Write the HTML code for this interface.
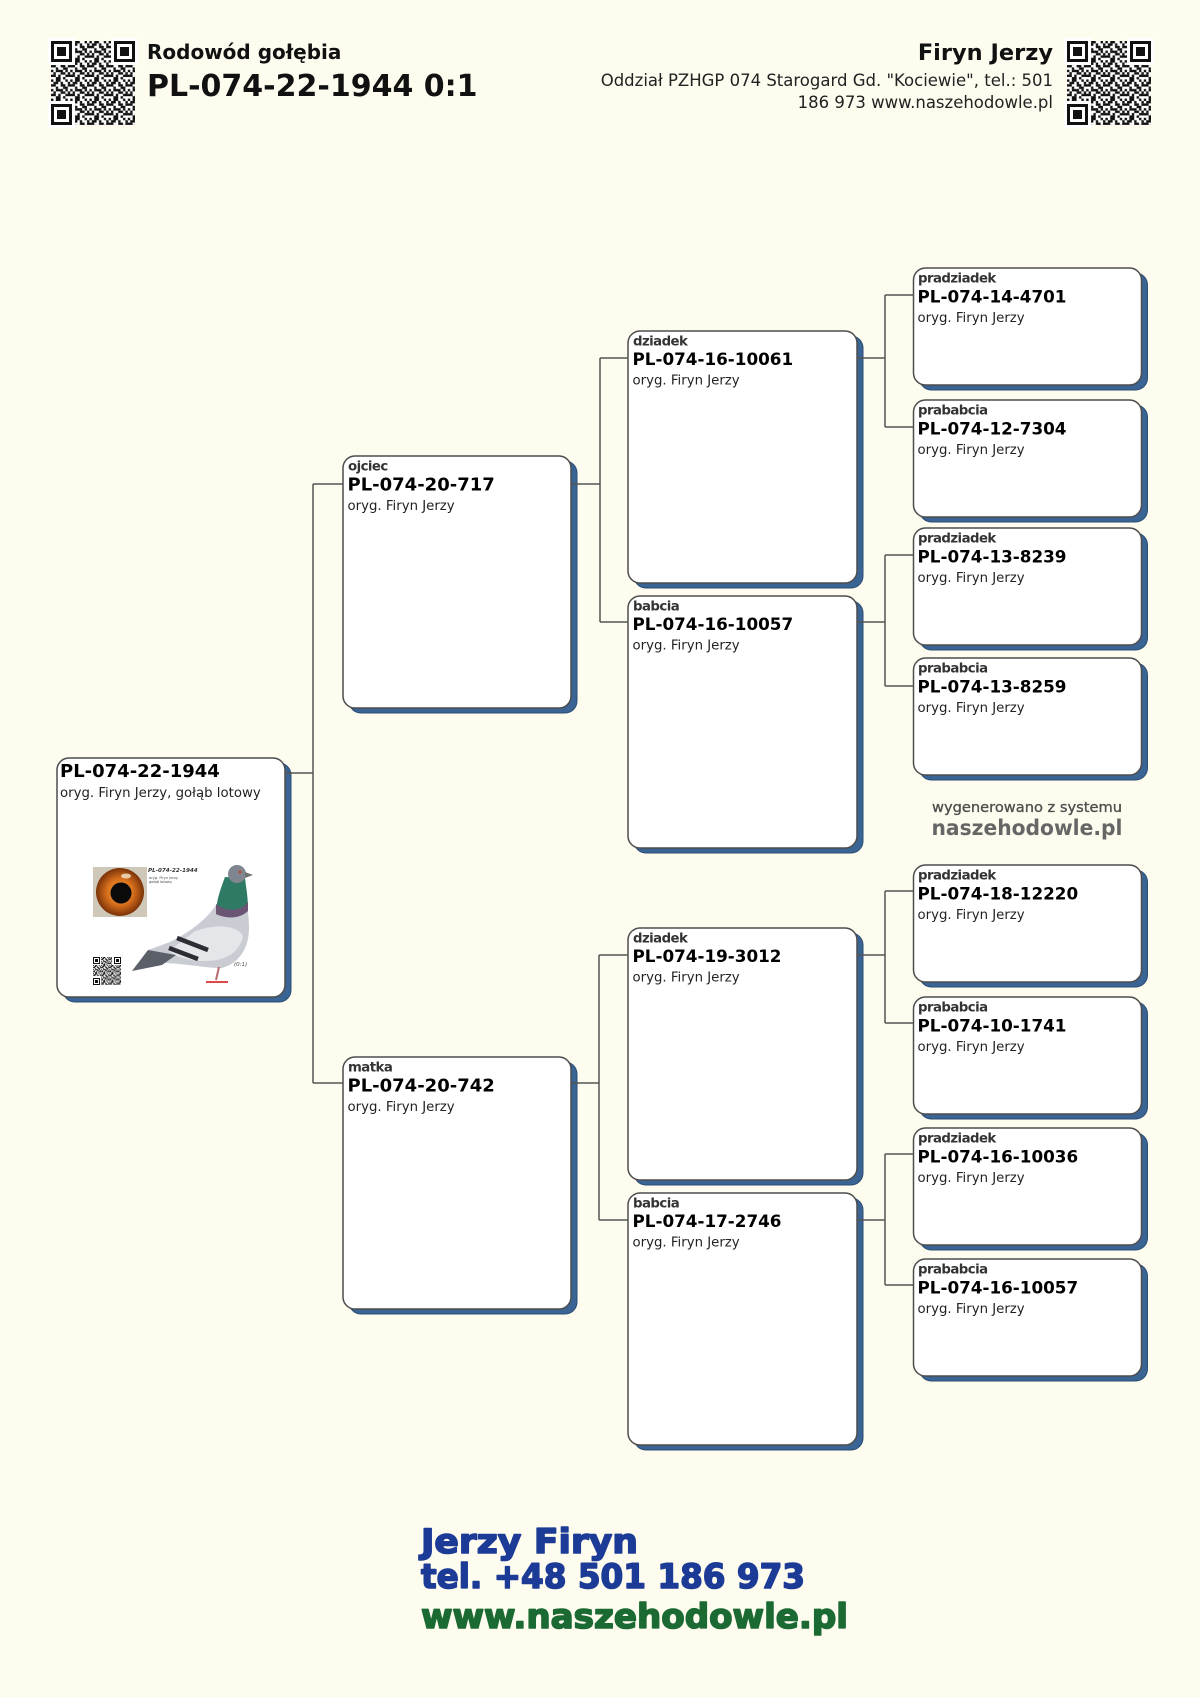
<!DOCTYPE html>
<html>
<head>
<meta charset="utf-8">
<style>
  html,body{margin:0;padding:0;background:#fdfcef;}
  body{width:1200px;height:1697px;overflow:hidden;}
  svg{display:block;}
  .lbl{font-family:"DejaVu Sans","Liberation Sans",sans-serif;font-weight:bold;font-size:13.3px;letter-spacing:-0.55px;fill:#333;}
  .id1{font-family:"DejaVu Sans","Liberation Sans",sans-serif;font-weight:bold;font-size:18px;fill:#000;}
  .id2{font-family:"DejaVu Sans","Liberation Sans",sans-serif;font-weight:bold;font-size:16.8px;fill:#000;}
  .org{font-family:"DejaVu Sans","Liberation Sans",sans-serif;font-size:13.3px;fill:#222;}
  .card{fill:#ffffff;stroke:#4d4d4d;stroke-width:1.5;}
  .shd{fill:#3a6494;stroke:#2b4d74;stroke-width:1;}
  .ln{fill:none;stroke:#555;stroke-width:1.5;}
</style>
</head>
<body>
<svg width="1200" height="1697" viewBox="0 0 1200 1697" xmlns="http://www.w3.org/2000/svg">
  <defs>
    <pattern id="qrp" patternUnits="userSpaceOnUse" width="24" height="24" patternTransform="scale(0.8)">
      <rect width="24" height="24" fill="#fff"/>
      <g fill="#111">
        <rect x="0" y="0" width="3" height="3"/><rect x="6" y="0" width="6" height="3"/><rect x="18" y="0" width="3" height="3"/>
        <rect x="3" y="3" width="6" height="3"/><rect x="12" y="3" width="3" height="3"/><rect x="21" y="3" width="3" height="3"/>
        <rect x="0" y="6" width="6" height="3"/><rect x="12" y="6" width="6" height="3"/><rect x="21" y="6" width="3" height="3"/>
        <rect x="6" y="9" width="3" height="3"/><rect x="15" y="9" width="6" height="3"/>
        <rect x="0" y="12" width="3" height="3"/><rect x="6" y="12" width="9" height="3"/><rect x="18" y="12" width="3" height="3"/>
        <rect x="3" y="15" width="3" height="3"/><rect x="12" y="15" width="6" height="3"/><rect x="21" y="15" width="3" height="3"/>
        <rect x="0" y="18" width="6" height="3"/><rect x="9" y="18" width="3" height="3"/><rect x="18" y="18" width="6" height="3"/>
        <rect x="6" y="21" width="6" height="3"/><rect x="15" y="21" width="3" height="3"/>
      </g>
    </pattern>
    <pattern id="qrs" patternUnits="userSpaceOnUse" width="24" height="24" patternTransform="scale(0.34)">
      <rect width="24" height="24" fill="#fff"/>
      <g fill="#111">
        <rect x="0" y="0" width="3" height="3"/><rect x="6" y="0" width="6" height="3"/><rect x="18" y="0" width="3" height="3"/>
        <rect x="3" y="3" width="6" height="3"/><rect x="12" y="3" width="3" height="3"/><rect x="21" y="3" width="3" height="3"/>
        <rect x="0" y="6" width="6" height="3"/><rect x="12" y="6" width="6" height="3"/><rect x="21" y="6" width="3" height="3"/>
        <rect x="6" y="9" width="3" height="3"/><rect x="15" y="9" width="6" height="3"/>
        <rect x="0" y="12" width="3" height="3"/><rect x="6" y="12" width="9" height="3"/><rect x="18" y="12" width="3" height="3"/>
        <rect x="3" y="15" width="3" height="3"/><rect x="12" y="15" width="6" height="3"/><rect x="21" y="15" width="3" height="3"/>
        <rect x="0" y="18" width="6" height="3"/><rect x="9" y="18" width="3" height="3"/><rect x="18" y="18" width="6" height="3"/>
        <rect x="6" y="21" width="6" height="3"/><rect x="15" y="21" width="3" height="3"/>
      </g>
    </pattern>
    <g id="finder">
      <rect x="-3" y="-3" width="27" height="27" fill="#fff"/>
      <rect x="0" y="0" width="21" height="21" fill="#111"/>
      <rect x="3" y="3" width="15" height="15" fill="#fff"/>
      <rect x="6" y="6" width="9" height="9" fill="#111"/>
    </g>
    <g id="finders">
      <rect x="-2" y="-2" width="10" height="10" fill="#fff"/>
      <rect x="0" y="0" width="7" height="7" fill="#111"/>
      <rect x="1" y="1" width="5" height="5" fill="#fff"/>
      <rect x="2" y="2" width="3" height="3" fill="#111"/>
    </g>
    <radialGradient id="iris" cx="50%" cy="50%" r="50%">
      <stop offset="0" stop-color="#f0a040"/>
      <stop offset="0.55" stop-color="#d8701c"/>
      <stop offset="1" stop-color="#7a3208"/>
    </radialGradient>
  </defs>

  <rect x="0" y="0" width="1200" height="1697" fill="#fdfcef"/>

  <!-- Header left -->
  <g transform="translate(51,41)">
    <rect width="84" height="84" fill="url(#qrp)"/>
    <use href="#finder" x="0" y="0"/>
    <use href="#finder" x="63" y="0"/>
    <use href="#finder" x="0" y="63"/>
  </g>
  <text x="147" y="59" font-family="DejaVu Sans, Liberation Sans, sans-serif" font-weight="bold" font-size="20" fill="#111">Rodowód gołębia</text>
  <text x="147" y="96" font-family="DejaVu Sans, Liberation Sans, sans-serif" font-weight="bold" font-size="30" fill="#111">PL-074-22-1944 0:1</text>

  <!-- Header right -->
  <text x="1053" y="60" text-anchor="end" font-family="DejaVu Sans, Liberation Sans, sans-serif" font-weight="bold" font-size="22.5" fill="#111">Firyn Jerzy</text>
  <text x="1053" y="86" text-anchor="end" font-family="DejaVu Sans, Liberation Sans, sans-serif" font-size="16.5" fill="#222">Oddział PZHGP 074 Starogard Gd. "Kociewie", tel.: 501</text>
  <text x="1053" y="108" text-anchor="end" font-family="DejaVu Sans, Liberation Sans, sans-serif" font-size="16.5" fill="#222">186 973 www.naszehodowle.pl</text>
  <g transform="translate(1067,41)">
    <rect width="84" height="84" fill="url(#qrp)"/>
    <use href="#finder" x="0" y="0"/>
    <use href="#finder" x="63" y="0"/>
    <use href="#finder" x="0" y="63"/>
  </g>

  <!-- Shadows -->
  <rect class="shd" x="63" y="763" width="228" height="239" rx="12"/>
  <rect class="shd" x="349" y="461" width="228" height="252" rx="12"/>
  <rect class="shd" x="349" y="1062" width="228" height="252" rx="12"/>
  <rect class="shd" x="634" y="336" width="229" height="252" rx="12"/>
  <rect class="shd" x="634" y="601" width="229" height="252" rx="12"/>
  <rect class="shd" x="634" y="933" width="229" height="252" rx="12"/>
  <rect class="shd" x="634" y="1198" width="229" height="252" rx="12"/>
  <rect class="shd" x="919.5" y="273" width="228" height="117" rx="12"/>
  <rect class="shd" x="919.5" y="405" width="228" height="117" rx="12"/>
  <rect class="shd" x="919.5" y="533" width="228" height="117" rx="12"/>
  <rect class="shd" x="919.5" y="663" width="228" height="117" rx="12"/>
  <rect class="shd" x="919.5" y="870" width="228" height="117" rx="12"/>
  <rect class="shd" x="919.5" y="1002" width="228" height="117" rx="12"/>
  <rect class="shd" x="919.5" y="1133" width="228" height="117" rx="12"/>
  <rect class="shd" x="919.5" y="1264" width="228" height="117" rx="12"/>

  <!-- Cards -->
  <rect class="card" x="57" y="758" width="228" height="239" rx="12"/>
  <rect class="card" x="343" y="456" width="228" height="252" rx="12"/>
  <rect class="card" x="343" y="1057" width="228" height="252" rx="12"/>
  <rect class="card" x="628" y="331" width="229" height="252" rx="12"/>
  <rect class="card" x="628" y="596" width="229" height="252" rx="12"/>
  <rect class="card" x="628" y="928" width="229" height="252" rx="12"/>
  <rect class="card" x="628" y="1193" width="229" height="252" rx="12"/>
  <rect class="card" x="913.5" y="268" width="228" height="117" rx="12"/>
  <rect class="card" x="913.5" y="400" width="228" height="117" rx="12"/>
  <rect class="card" x="913.5" y="528" width="228" height="117" rx="12"/>
  <rect class="card" x="913.5" y="658" width="228" height="117" rx="12"/>
  <rect class="card" x="913.5" y="865" width="228" height="117" rx="12"/>
  <rect class="card" x="913.5" y="997" width="228" height="117" rx="12"/>
  <rect class="card" x="913.5" y="1128" width="228" height="117" rx="12"/>
  <rect class="card" x="913.5" y="1259" width="228" height="117" rx="12"/>

  <!-- Connectors -->
  <path class="ln" d="M285 773 H313 M313 484 V1083 M313 484 H343 M313 1083 H343"/>
  <path class="ln" d="M571 484 H600 M600 358 V622 M600 358 H628 M600 622 H628"/>
  <path class="ln" d="M571 1083 H599 M599 955 V1220 M599 955 H628 M599 1220 H628"/>
  <path class="ln" d="M857 358 H885 M885 295 V427 M885 295 H913.5 M885 427 H913.5"/>
  <path class="ln" d="M857 622 H885 M885 555 V686 M885 555 H913.5 M885 686 H913.5"/>
  <path class="ln" d="M857 955 H885 M885 891 V1023 M885 891 H913.5 M885 1023 H913.5"/>
  <path class="ln" d="M857 1220 H885 M885 1154 V1285 M885 1154 H913.5 M885 1285 H913.5"/>

  <!-- Main card text -->
  <text class="id1" x="60" y="777">PL-074-22-1944</text>
  <text class="org" x="60" y="797" font-size="13.5">oryg. Firyn Jerzy, gołąb lotowy</text>

  <!-- Main card photo -->
  <g>
    <rect x="92" y="866" width="156" height="118" fill="#ffffff"/>
    <rect x="93" y="867" width="54" height="50" fill="#cfc8b8"/>
    <circle cx="120" cy="892" r="24" fill="url(#iris)"/>
    <circle cx="121" cy="893" r="10.5" fill="#0a0a0a"/>
    <ellipse cx="126" cy="876" rx="5" ry="2.5" fill="#f5e7d0" opacity="0.8"/>
    <text x="148" y="872" font-family="DejaVu Sans, sans-serif" font-weight="bold" font-style="italic" font-size="5.6" fill="#333">PL-074-22-1944</text>
    <text x="149" y="879" font-family="DejaVu Sans, sans-serif" font-size="3.6" fill="#444">oryg. Firyn Jerzy</text>
    <text x="149" y="883" font-family="DejaVu Sans, sans-serif" font-size="3.6" fill="#444">gołąb lotowy</text>
    <!-- pigeon -->
    <path d="M216,905 C206,920 190,932 170,942 L148,950 L134,969 L166,963 C188,964 204,968 222,968 C240,963 249,947 249,928 C249,915 247,905 245,898 Z" fill="#c9ccd3"/>
    <path d="M194,932 C212,924 236,924 243,936 C240,952 226,961 205,961 C189,961 176,957 169,951 Z" fill="#e4e6ea"/>
    <path d="M148,950 L132,971 L162,965 L176,955 Z" fill="#5a5f68"/>
    <path d="M225,877 C220,890 216,902 216,914 C228,919 242,916 248,909 C248,897 246,887 245,878 Z" fill="#2e7a64"/>
    <path d="M216,904 C226,912 240,912 248,902 L248,911 C240,919 226,919 216,914 Z" fill="#6a5674"/>
    <circle cx="237" cy="874" r="9" fill="#80868f"/>
    <polygon points="245,872 253,875 245,878" fill="#707070"/>
    <circle cx="240" cy="872" r="1.5" fill="#b84a3a"/>
    <path d="M177,938 L208,950" stroke="#2a2d33" stroke-width="4.5" fill="none"/>
    <path d="M169,948 L198,959" stroke="#2a2d33" stroke-width="4.5" fill="none"/>
    <path d="M219,967 L216,980" stroke="#b96b6b" stroke-width="2" fill="none"/>
    <path d="M206,982 L228,982" stroke="#e04848" stroke-width="2" fill="none"/>
    <text x="234" y="966" font-family="DejaVu Sans, sans-serif" font-style="italic" font-size="5.5" fill="#444">(0:1)</text>
    <!-- small QR -->
    <g transform="translate(93,957)">
      <rect width="28" height="28" fill="url(#qrs)"/>
      <use href="#finders" x="0" y="0"/>
      <use href="#finders" x="21" y="0"/>
      <use href="#finders" x="0" y="21"/>
    </g>
  </g>

  <!-- Gen 1 -->
  <text class="lbl" x="348" y="470.5">ojciec</text>
  <text class="id1" x="347.5" y="490.5">PL-074-20-717</text>
  <text class="org" x="347.5" y="510">oryg. Firyn Jerzy</text>

  <text class="lbl" x="348" y="1071.5">matka</text>
  <text class="id1" x="347.5" y="1091.5">PL-074-20-742</text>
  <text class="org" x="347.5" y="1111">oryg. Firyn Jerzy</text>

  <!-- Gen 2 -->
  <text class="lbl" x="633" y="345.5">dziadek</text>
  <text class="id2" x="632.5" y="365">PL-074-16-10061</text>
  <text class="org" x="632.5" y="384.5">oryg. Firyn Jerzy</text>

  <text class="lbl" x="633" y="610.5">babcia</text>
  <text class="id2" x="632.5" y="630">PL-074-16-10057</text>
  <text class="org" x="632.5" y="649.5">oryg. Firyn Jerzy</text>

  <text class="lbl" x="633" y="942.5">dziadek</text>
  <text class="id2" x="632.5" y="962">PL-074-19-3012</text>
  <text class="org" x="632.5" y="981.5">oryg. Firyn Jerzy</text>

  <text class="lbl" x="633" y="1207.5">babcia</text>
  <text class="id2" x="632.5" y="1227">PL-074-17-2746</text>
  <text class="org" x="632.5" y="1246.5">oryg. Firyn Jerzy</text>

  <!-- Gen 3 -->
  <text class="lbl" x="918" y="282.5">pradziadek</text>
  <text class="id2" x="917.5" y="302.5">PL-074-14-4701</text>
  <text class="org" x="917.5" y="322">oryg. Firyn Jerzy</text>

  <text class="lbl" x="918" y="414.5">prababcia</text>
  <text class="id2" x="917.5" y="434.5">PL-074-12-7304</text>
  <text class="org" x="917.5" y="454">oryg. Firyn Jerzy</text>

  <text class="lbl" x="918" y="542.5">pradziadek</text>
  <text class="id2" x="917.5" y="562.5">PL-074-13-8239</text>
  <text class="org" x="917.5" y="582">oryg. Firyn Jerzy</text>

  <text class="lbl" x="918" y="672.5">prababcia</text>
  <text class="id2" x="917.5" y="692.5">PL-074-13-8259</text>
  <text class="org" x="917.5" y="712">oryg. Firyn Jerzy</text>

  <text class="lbl" x="918" y="879.5">pradziadek</text>
  <text class="id2" x="917.5" y="899.5">PL-074-18-12220</text>
  <text class="org" x="917.5" y="919">oryg. Firyn Jerzy</text>

  <text class="lbl" x="918" y="1011.5">prababcia</text>
  <text class="id2" x="917.5" y="1031.5">PL-074-10-1741</text>
  <text class="org" x="917.5" y="1051">oryg. Firyn Jerzy</text>

  <text class="lbl" x="918" y="1142.5">pradziadek</text>
  <text class="id2" x="917.5" y="1162.5">PL-074-16-10036</text>
  <text class="org" x="917.5" y="1182">oryg. Firyn Jerzy</text>

  <text class="lbl" x="918" y="1273.5">prababcia</text>
  <text class="id2" x="917.5" y="1293.5">PL-074-16-10057</text>
  <text class="org" x="917.5" y="1313">oryg. Firyn Jerzy</text>

  <!-- Watermark -->
  <text x="1027" y="812" text-anchor="middle" font-family="DejaVu Sans, Liberation Sans, sans-serif" font-size="14.5" fill="#4f4f4f" stroke="#4f4f4f" stroke-width="0.35" textLength="190" lengthAdjust="spacingAndGlyphs">wygenerowano z systemu</text>
  <text x="1027" y="835" text-anchor="middle" font-family="DejaVu Sans, Liberation Sans, sans-serif" font-weight="bold" font-size="21.5" fill="#666" textLength="191" lengthAdjust="spacingAndGlyphs">naszehodowle.pl</text>

  <!-- Footer -->
  <g font-family="DejaVu Sans, Liberation Sans, sans-serif" font-weight="bold" font-size="34" stroke-width="1.6" stroke-linejoin="round">
    <text x="421" y="1553" fill="#1c3b96" stroke="#1c3b96" textLength="217" lengthAdjust="spacingAndGlyphs">Jerzy Firyn</text>
    <text x="421" y="1588" fill="#1c3b96" stroke="#1c3b96" textLength="384" lengthAdjust="spacingAndGlyphs">tel. +48 501 186 973</text>
    <text x="421" y="1628" fill="#1b6a33" stroke="#1b6a33" textLength="427" lengthAdjust="spacingAndGlyphs">www.naszehodowle.pl</text>
  </g>
</svg>
</body>
</html>
